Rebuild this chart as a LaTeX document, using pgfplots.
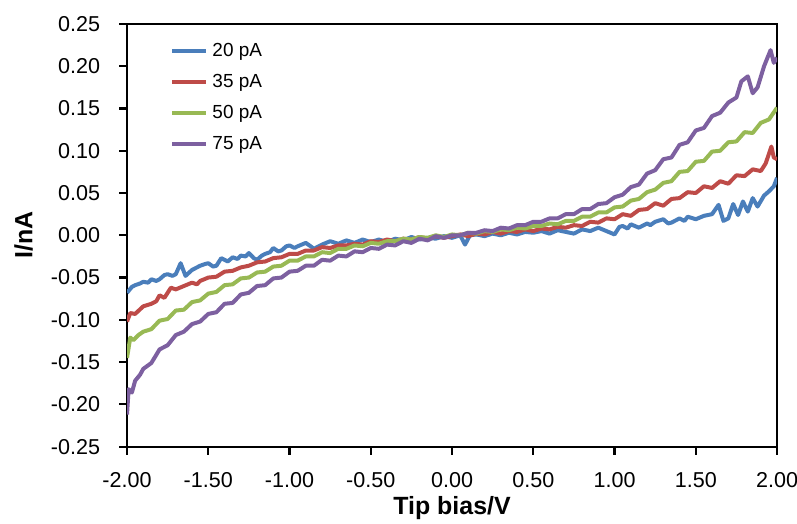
\documentclass[border=0pt]{standalone}
\usepackage{pgfplots}
\pgfplotsset{compat=1.18}
\usepackage{fontspec}
\setmainfont{Liberation Sans}
\definecolor{cblue}{HTML}{4A7EBB}
\definecolor{cred}{HTML}{BE4B48}
\definecolor{cgreen}{HTML}{98B954}
\definecolor{cpurple}{HTML}{7D60A0}
\begin{document}
\begin{tikzpicture}
\begin{axis}[
  scale only axis, width=326pt, height=212pt,
  xmin=-2, xmax=2, ymin=-0.25, ymax=0.25,
  xtick={-2,-1.5,...,2}, ytick={-0.25,-0.2,...,0.26},
  xtick pos=bottom, ytick pos=left, tick align=outside,
  major tick length=4pt,
  axis line style={line width=1.1pt, black},
  every tick/.style={line width=1.1pt, black},
  /pgf/number format/assume math mode=true,
  xticklabel style={/pgf/number format/.cd, fixed, fixed zerofill, precision=2, /tikz/.cd, yshift=-5.5pt},
  yticklabel style={/pgf/number format/.cd, fixed, fixed zerofill, precision=2, /tikz/.cd, xshift=-6pt},
  tick label style={font=\fontsize{10.8}{12}\selectfont},
  xlabel={\bfseries Tip bias/V}, ylabel={\bfseries I/nA},
  label style={font=\fontsize{12.5}{14}\selectfont},
  xlabel style={at={(rel axis cs:0.5,-0.146)}, anchor=center},
  ylabel style={at={(rel axis cs:-0.159,0.5)}, anchor=center, rotate=0},
  legend style={at={(rel axis cs:0.057,0.975)}, anchor=north west, draw=none, fill=none,
    font=\fontsize{9.5}{11}\selectfont, row sep=3.5pt},
  legend cell align=left,
  every axis plot/.append style={line width=2pt, line join=round},
]
\addplot[cblue] coordinates {
(-2.00,-0.068)(-1.97,-0.061)(-1.95,-0.059)(-1.92,-0.057)(-1.90,-0.055)(-1.87,-0.056)(-1.85,-0.052)(-1.82,-0.054)(-1.80,-0.052)(-1.77,-0.047)(-1.75,-0.046)(-1.72,-0.048)(-1.70,-0.046)(-1.67,-0.033)(-1.64,-0.048)(-1.60,-0.041)
(-1.57,-0.038)(-1.55,-0.036)(-1.52,-0.034)(-1.50,-0.033)(-1.47,-0.037)(-1.45,-0.036)(-1.42,-0.027)(-1.38,-0.031)(-1.35,-0.026)(-1.32,-0.028)(-1.30,-0.024)(-1.27,-0.025)(-1.25,-0.021)(-1.22,-0.027)(-1.20,-0.029)(-1.17,-0.024)(-1.15,-0.022)
(-1.12,-0.020)(-1.10,-0.015)(-1.07,-0.019)(-1.05,-0.018)(-1.02,-0.013)(-1.00,-0.012)(-0.97,-0.015)(-0.95,-0.013)(-0.90,-0.009)(-0.87,-0.013)(-0.85,-0.016)(-0.80,-0.011)(-0.75,-0.007)(-0.70,-0.010)(-0.65,-0.006)
(-0.60,-0.009)(-0.55,-0.005)(-0.50,-0.008)(-0.45,-0.005)(-0.40,-0.008)(-0.35,-0.004)(-0.30,-0.006)(-0.25,-0.002)(-0.20,-0.005)(-0.15,-0.003)
(-0.10,-0.004)(-0.05,-0.001)(0.00,-0.003)(0.05,0.000)(0.08,-0.011)(0.11,0.000)(0.15,0.001)(0.20,-0.001)(0.25,0.002)(0.30,0.000)
(0.35,0.003)(0.40,0.001)(0.45,0.004)(0.50,0.003)(0.55,0.005)(0.60,0.002)(0.65,0.006)(0.70,0.004)(0.75,0.002)(0.80,0.007)
(0.85,0.005)(0.90,0.009)(0.95,0.005)(1.00,0.001)(1.03,0.010)(1.05,0.011)(1.08,0.008)(1.10,0.013)(1.15,0.009)(1.20,0.014)(1.22,0.012)(1.25,0.016)
(1.30,0.019)(1.33,0.014)(1.35,0.015)(1.40,0.020)(1.43,0.017)(1.45,0.022)(1.50,0.019)(1.55,0.023)(1.60,0.025)(1.64,0.036)(1.67,0.017)(1.70,0.020)
(1.73,0.037)(1.76,0.024)(1.79,0.040)(1.82,0.028)(1.85,0.044)(1.88,0.034)(1.92,0.047)(1.95,0.052)(1.98,0.058)(2.00,0.068)
};
\addlegendentry{20 pA}
\addplot[cred] coordinates {
(-2.00,-0.102)(-1.98,-0.092)(-1.95,-0.093)(-1.90,-0.084)(-1.85,-0.081)(-1.82,-0.078)(-1.80,-0.071)(-1.77,-0.074)(-1.73,-0.062)(-1.70,-0.064)(-1.65,-0.060)
(-1.60,-0.056)(-1.57,-0.058)(-1.55,-0.054)(-1.50,-0.050)(-1.45,-0.049)(-1.40,-0.043)(-1.35,-0.042)(-1.30,-0.038)(-1.25,-0.036)(-1.20,-0.032)(-1.15,-0.031)
(-1.10,-0.027)(-1.05,-0.026)(-1.00,-0.022)(-0.95,-0.022)(-0.90,-0.018)(-0.85,-0.018)(-0.80,-0.014)(-0.75,-0.015)(-0.70,-0.012)(-0.65,-0.012)
(-0.60,-0.010)(-0.55,-0.011)(-0.50,-0.007)(-0.45,-0.008)(-0.40,-0.005)(-0.35,-0.007)(-0.30,-0.004)(-0.25,-0.005)(-0.20,-0.002)(-0.15,-0.004)
(-0.10,-0.001)(-0.05,-0.003)(0.00,-0.001)(0.05,0.001)(0.10,-0.001)(0.15,0.002)(0.20,0.001)(0.25,0.004)(0.30,0.002)(0.35,0.005)
(0.40,0.004)(0.45,0.007)(0.50,0.005)(0.55,0.008)(0.60,0.007)(0.65,0.010)(0.70,0.009)(0.75,0.012)(0.80,0.011)(0.85,0.016)
(0.90,0.015)(0.95,0.020)(1.00,0.019)(1.05,0.025)(1.10,0.023)(1.15,0.030)(1.20,0.031)(1.25,0.038)(1.30,0.035)(1.35,0.043)
(1.40,0.044)(1.45,0.051)(1.50,0.050)(1.55,0.058)(1.60,0.056)(1.65,0.064)(1.70,0.061)(1.75,0.071)(1.80,0.070)(1.85,0.078)
(1.90,0.076)(1.93,0.085)(1.965,0.105)(1.98,0.092)(2.00,0.090)
};
\addlegendentry{35 pA}
\addplot[cgreen] coordinates {
(-2.00,-0.145)(-1.98,-0.121)(-1.96,-0.124)(-1.93,-0.118)(-1.90,-0.114)(-1.85,-0.111)(-1.80,-0.101)(-1.75,-0.099)(-1.70,-0.089)(-1.65,-0.088)
(-1.60,-0.079)(-1.55,-0.077)(-1.50,-0.069)(-1.45,-0.067)(-1.40,-0.059)(-1.35,-0.058)(-1.30,-0.051)(-1.25,-0.050)(-1.20,-0.044)(-1.15,-0.043)
(-1.10,-0.037)(-1.05,-0.036)(-1.00,-0.030)(-0.95,-0.030)(-0.90,-0.025)(-0.85,-0.025)(-0.80,-0.020)(-0.75,-0.021)(-0.70,-0.016)(-0.65,-0.016)
(-0.60,-0.012)(-0.55,-0.013)(-0.50,-0.009)(-0.45,-0.010)(-0.40,-0.007)(-0.35,-0.007)(-0.30,-0.004)(-0.25,-0.005)(-0.20,-0.002)(-0.15,-0.003)
(-0.10,0.000)(-0.05,-0.002)(0.00,0.001)(0.05,0.000)(0.10,0.003)(0.15,0.002)(0.20,0.005)(0.25,0.004)(0.30,0.007)(0.35,0.006)
(0.40,0.009)(0.45,0.008)(0.50,0.011)(0.55,0.011)(0.60,0.014)(0.65,0.013)(0.70,0.017)(0.75,0.017)(0.80,0.022)(0.85,0.022)
(0.90,0.027)(0.95,0.027)(1.00,0.033)(1.05,0.034)(1.10,0.041)(1.15,0.043)(1.20,0.051)(1.25,0.054)(1.30,0.062)(1.35,0.064)
(1.40,0.075)(1.45,0.076)(1.50,0.087)(1.55,0.088)(1.60,0.099)(1.65,0.100)(1.70,0.110)(1.75,0.111)(1.80,0.122)(1.85,0.121)
(1.90,0.133)(1.95,0.137)(2.00,0.151)
};
\addlegendentry{50 pA}
\addplot[cpurple] coordinates {
(-2.00,-0.212)(-1.99,-0.182)(-1.97,-0.186)(-1.95,-0.172)(-1.92,-0.165)(-1.90,-0.158)(-1.85,-0.151)(-1.80,-0.135)(-1.75,-0.130)(-1.70,-0.118)
(-1.65,-0.114)(-1.60,-0.105)(-1.55,-0.102)(-1.50,-0.093)(-1.45,-0.091)(-1.40,-0.081)(-1.35,-0.080)(-1.30,-0.070)(-1.25,-0.068)(-1.20,-0.060)
(-1.15,-0.059)(-1.10,-0.051)(-1.05,-0.050)(-1.00,-0.043)(-0.95,-0.042)(-0.90,-0.036)(-0.85,-0.036)(-0.80,-0.029)(-0.75,-0.030)(-0.70,-0.024)
(-0.65,-0.025)(-0.60,-0.019)(-0.55,-0.020)(-0.50,-0.015)(-0.45,-0.016)(-0.40,-0.011)(-0.35,-0.012)(-0.30,-0.007)(-0.25,-0.009)(-0.20,-0.004)
(-0.15,-0.006)(-0.10,-0.001)(-0.05,-0.003)(0.00,0.000)(0.05,0.000)(0.10,0.003)(0.15,0.003)(0.20,0.006)(0.25,0.005)(0.30,0.009)
(0.35,0.008)(0.40,0.012)(0.45,0.012)(0.50,0.016)(0.55,0.016)(0.60,0.020)(0.65,0.020)(0.70,0.025)(0.75,0.025)(0.80,0.031)
(0.85,0.031)(0.90,0.037)(0.95,0.038)(1.00,0.045)(1.05,0.048)(1.10,0.057)(1.15,0.060)(1.20,0.073)(1.25,0.077)(1.30,0.090)
(1.35,0.092)(1.40,0.107)(1.45,0.110)(1.50,0.124)(1.55,0.127)(1.60,0.141)(1.65,0.145)(1.70,0.157)(1.75,0.163)(1.78,0.182)
(1.82,0.188)(1.85,0.168)(1.88,0.175)(1.92,0.200)(1.96,0.219)(1.98,0.204)(2.00,0.210)
};
\addlegendentry{75 pA}
\coordinate (sw) at (rel axis cs:0,0);
\coordinate (ne) at (rel axis cs:1,1);
\end{axis}
\pgfresetboundingbox
\path ([xshift=-63.7pt,yshift=-38.6pt]sw) rectangle ([xshift=10pt,yshift=12pt]ne);
\end{tikzpicture}
\end{document}
